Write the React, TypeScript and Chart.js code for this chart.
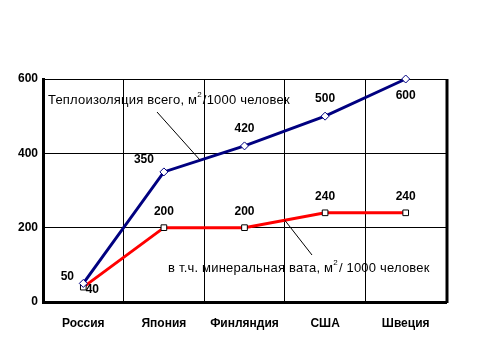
import React, { useEffect, useRef } from "react";
import { Chart, registerables } from "chart.js";

Chart.register(...registerables);

const categories = ["Россия", "Япония", "Финляндия", "США", "Швеция"];
const totalValues = [50, 350, 420, 500, 600];
const mineralValues = [40, 200, 200, 240, 240];
const yTicks = [0, 200, 400, 600];

const totalLabel = ["Теплоизоляция всего, м", "2", "/1000 человек"];
const mineralLabel = ["в т.ч. минеральная вата, м", "2", "/ 1000 человек"];

// label offsets (px) relative to each point
const totalLabelOffsets = [[-16, -7], [-20, -12], [0, -17], [0, -17], [0, 17]];
const mineralLabelOffsets = [[9, 3], [0, -16], [0, -16], [0, -16], [0, -16]];

const FONT = "'Liberation Sans', Arial, sans-serif";

const overlayPlugin = {
  id: "overlay",
  afterDraw(chart: any) {
    const ctx = chart.ctx;
    const ca = chart.chartArea;
    const xs = chart.scales.x;
    const ys = chart.scales.y;
    ctx.save();
    // right frame
    ctx.strokeStyle = "#000";
    ctx.lineWidth = 3;
    ctx.beginPath();
    ctx.moveTo(ca.right + 1, ca.top);
    ctx.lineTo(ca.right + 1, ca.bottom + 1);
    ctx.stroke();

    // data labels
    ctx.font = "bold 12px " + FONT;
    ctx.fillStyle = "#000";
    ctx.textAlign = "center";
    ctx.textBaseline = "middle";
    totalValues.forEach((v, i) => {
      const o = totalLabelOffsets[i];
      ctx.fillText(String(v), xs.getPixelForValue(i) + o[0], ys.getPixelForValue(v) + o[1]);
    });
    mineralValues.forEach((v, i) => {
      const o = mineralLabelOffsets[i];
      ctx.fillText(String(v), xs.getPixelForValue(i) + o[0], ys.getPixelForValue(v) + o[1]);
    });

    // series annotations
    const drawSup = (parts: string[], x: number, y: number) => {
      ctx.textAlign = "left";
      ctx.textBaseline = "middle";
      if ("letterSpacing" in ctx) (ctx as any).letterSpacing = "0.2px";
      ctx.font = "13px " + FONT;
      ctx.fillText(parts[0], x, y);
      let cx = x + ctx.measureText(parts[0]).width;
      ctx.font = "8px " + FONT;
      ctx.fillText(parts[1], cx, y - 5);
      cx += ctx.measureText(parts[1]).width + 1;
      ctx.font = "13px " + FONT;
      ctx.fillText(parts[2], cx, y);
      if ("letterSpacing" in ctx) (ctx as any).letterSpacing = "0px";
    };
    drawSup(totalLabel, ca.left + 5, ca.top + 21);
    drawSup(mineralLabel, ca.left + 125, ca.top + 189);

    // leader lines: from text to a point on each series line
    ctx.lineWidth = 1;
    ctx.strokeStyle = "#000";
    const t1x = xs.getPixelForValue(1.45);
    const t1y = ys.getPixelForValue(totalValues[1] + 0.45 * (totalValues[2] - totalValues[1]));
    ctx.beginPath();
    ctx.moveTo(ca.left + 114, ca.top + 33);
    ctx.lineTo(t1x, t1y);
    ctx.stroke();
    const t2x = xs.getPixelForValue(2.5);
    const t2y = ys.getPixelForValue(mineralValues[2] + 0.5 * (mineralValues[3] - mineralValues[2]));
    ctx.beginPath();
    ctx.moveTo(t2x, t2y);
    ctx.lineTo(ca.left + 269, ca.top + 176);
    ctx.stroke();
    ctx.restore();
  },
};

export default function App() {
  const ref = useRef<HTMLCanvasElement>(null);
  useEffect(() => {
    const chart = new Chart(ref.current as HTMLCanvasElement, {
      type: "line",
      data: {
        labels: categories,
        datasets: [
          {
            label: "Теплоизоляция всего",
            data: totalValues,
            borderColor: "#000080",
            borderWidth: 3,
            pointStyle: "rectRot",
            pointRadius: 4,
            pointBackgroundColor: "#fff",
            pointBorderColor: "#000080",
            pointBorderWidth: 1,
            tension: 0,
            clip: false,
          },
          {
            label: "в т.ч. минеральная вата",
            data: mineralValues,
            borderColor: "#ff0000",
            borderWidth: 3,
            pointStyle: "rect",
            pointRadius: 4,
            pointBackgroundColor: "#fff",
            pointBorderColor: "#000",
            pointBorderWidth: 1,
            tension: 0,
            clip: false,
          },
        ],
      },
      options: {
        responsive: false,
        animation: false,
        layout: { padding: { left: 0, top: 79, right: 33, bottom: 0 } },
        plugins: { legend: { display: false }, tooltip: { enabled: false } },
        scales: {
          x: {
            type: "category",
            offset: true,
            afterFit: (s: any) => { s.height = 57; },
            grid: { offset: true, color: "#000", lineWidth: 1, drawTicks: false },
            border: { color: "#000", width: 3 },
            ticks: {
              color: "#000",
              padding: 14,
              font: { family: FONT, size: 12, weight: "bold" },
            },
          },
          y: {
            min: 0,
            max: 600,
            afterFit: (s: any) => { s.width = 43; },
            afterBuildTicks: (s: any) => { s.ticks = yTicks.map((v) => ({ value: v })); },
            grid: { color: "#000", lineWidth: 1, drawTicks: false },
            border: { color: "#000", width: 3 },
            ticks: {
              color: "#000",
              padding: 5,
              font: { family: FONT, size: 12, weight: "bold" },
            },
          },
        },
      },
      plugins: [overlayPlugin],
    } as any);
    return () => chart.destroy();
  }, []);
  return (
    <div style={{ position: "fixed", left: 0, top: 0, width: 479, height: 359, background: "#fff" }}>
      <canvas ref={ref} width={479} height={359} style={{ display: "block" }} />
    </div>
  );
}
